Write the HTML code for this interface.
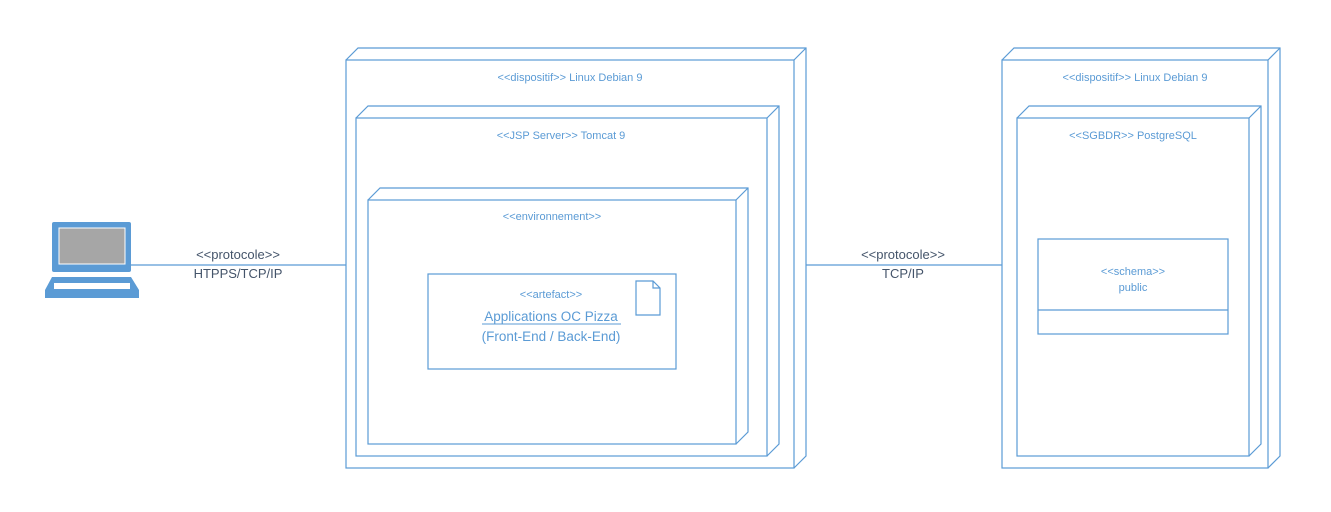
<!DOCTYPE html>
<html><head><meta charset="utf-8"><style>
html,body{margin:0;padding:0;background:#fff;width:1331px;height:512px;overflow:hidden}
text{font-family:"Liberation Sans",sans-serif}
</style></head><body>
<svg width="1331" height="512" viewBox="0 0 1331 512" xmlns="http://www.w3.org/2000/svg">
<g fill="none" stroke="#5b9bd5" stroke-width="1.2">
<!-- node 1 -->
<rect x="346" y="60" width="448" height="408"/>
<polyline points="346,60 358,48 806,48 806,456 794,468"/>
<line x1="794" y1="60" x2="806" y2="48"/>
<!-- tomcat -->
<rect x="356" y="118" width="411" height="338"/>
<polyline points="356,118 368,106 779,106 779,444 767,456"/>
<line x1="767" y1="118" x2="779" y2="106"/>
<!-- env -->
<rect x="368" y="200" width="368" height="244"/>
<polyline points="368,200 380,188 748,188 748,432 736,444"/>
<line x1="736" y1="200" x2="748" y2="188"/>
<!-- artefact -->
<rect x="428" y="274" width="248" height="95"/>
<path d="M636,281 H653 L660,288 V315 H636 Z M653,281 V288 H660"/>
<!-- node 2 -->
<rect x="1002" y="60" width="266" height="408"/>
<polyline points="1002,60 1014,48 1280,48 1280,456 1268,468"/>
<line x1="1268" y1="60" x2="1280" y2="48"/>
<!-- postgres -->
<rect x="1017" y="118" width="232" height="338"/>
<polyline points="1017,118 1029,106 1261,106 1261,444 1249,456"/>
<line x1="1249" y1="118" x2="1261" y2="106"/>
<!-- schema -->
<rect x="1038" y="239" width="190" height="95"/>
<line x1="1038" y1="310" x2="1228" y2="310"/>
<!-- connectors -->
<line x1="131" y1="265" x2="346" y2="265"/>
<line x1="806" y1="265" x2="1002" y2="265"/>
</g>
<!-- laptop -->
<rect x="52" y="222" width="79" height="50" rx="2" fill="#5b9bd5"/>
<rect x="59" y="228" width="66" height="36" fill="#a6a6a6" stroke="#fff" stroke-width="1"/>
<path d="M52,277 H131 L139,290 V298 H45 V290 Z" fill="#5b9bd5"/>
<rect x="54" y="283" width="76" height="6" fill="#fff"/>
<g fill="#5b9bd5" font-size="11" text-anchor="middle">
<text x="570" y="81">&lt;&lt;dispositif&gt;&gt; Linux Debian 9</text>
<text x="561" y="139">&lt;&lt;JSP Server&gt;&gt; Tomcat 9</text>
<text x="552" y="220">&lt;&lt;environnement&gt;&gt;</text>
<text x="551" y="298">&lt;&lt;artefact&gt;&gt;</text>
<text x="1135" y="81">&lt;&lt;dispositif&gt;&gt; Linux Debian 9</text>
<text x="1133" y="139">&lt;&lt;SGBDR&gt;&gt; PostgreSQL</text>
<text x="1133" y="275">&lt;&lt;schema&gt;&gt;</text>
<text x="1133" y="291">public</text>
</g>
<g fill="#5b9bd5" font-size="13.5" text-anchor="middle">
<text x="551" y="321">Applications OC Pizza</text>
<text x="551" y="341">(Front-End / Back-End)</text>
</g>
<line x1="482" y1="324" x2="621" y2="324" stroke="#5b9bd5" stroke-width="1"/>
<g fill="#44546a" font-size="13" text-anchor="middle">
<text x="238" y="259">&lt;&lt;protocole&gt;&gt;</text>
<text x="238" y="278">HTPPS/TCP/IP</text>
<text x="903" y="259">&lt;&lt;protocole&gt;&gt;</text>
<text x="903" y="278">TCP/IP</text>
</g>
</svg>
</body></html>
